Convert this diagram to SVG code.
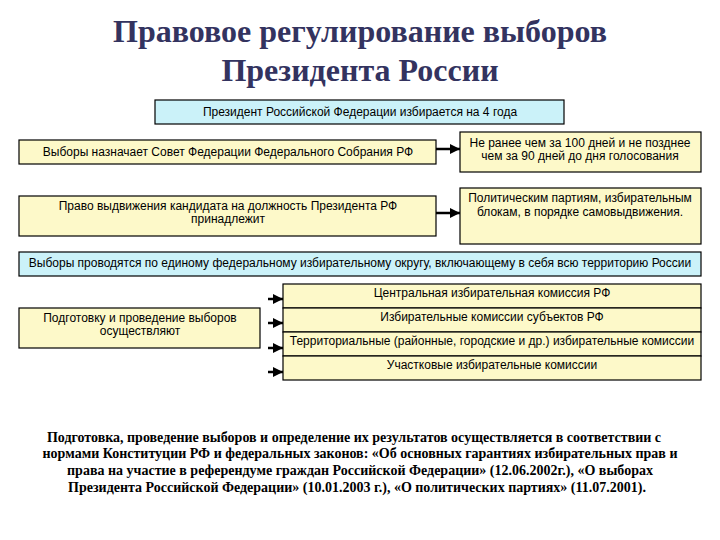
<svg xmlns="http://www.w3.org/2000/svg" width="720" height="540" viewBox="0 0 720 540">
<defs>
<style>
.title{font-family:"Liberation Serif","Times New Roman",serif;font-weight:bold;font-size:32px;fill:#33335f;text-anchor:middle}
.y{fill:#fdf9c9;stroke:#000;stroke-width:1.2}
.b{fill:#cbf2f9;stroke:#000;stroke-width:1.2}
.t{font-family:"Liberation Sans",Arial,sans-serif;font-size:12px;fill:#000;text-anchor:middle}
.bt{font-family:"Liberation Serif","Times New Roman",serif;font-weight:bold;font-size:14px;fill:#000;text-anchor:middle}
.c{stroke:#000;stroke-width:2.5;fill:none}
</style>
<marker id="ah" viewBox="0 0 10 10" refX="10" refY="5" markerWidth="4" markerHeight="4" markerUnits="strokeWidth" orient="auto">
<path d="M0,0 L10,5 L0,10 z" fill="#000"/>
</marker>
</defs>
<rect width="720" height="540" fill="#fff"/>
<text class="title" x="360" y="42">Правовое регулирование выборов</text>
<text class="title" x="360" y="81">Президента России</text>

<g id="n1"><rect class="b" x="155" y="100" width="409" height="24"/><text class="t" x="360" y="116">Президент Российской Федерации избирается на 4 года</text></g>
<g id="n2"><rect class="y" x="19" y="140" width="417" height="24"/><text class="t" x="228" y="156">Выборы назначает Совет Федерации Федерального Собрания РФ</text></g>
<g id="n3"><rect class="y" x="460" y="132" width="241" height="40"/><text class="t" x="580" y="147">Не ранее чем за 100 дней и не позднее</text><text class="t" x="580" y="160">чем за 90 дней до дня голосования</text></g>
<g id="n4"><rect class="y" x="19" y="196" width="417" height="40"/><text class="t" x="228" y="210">Право выдвижения кандидата на должность Президента РФ</text><text class="t" x="228" y="223">принадлежит</text></g>
<g id="n5"><rect class="y" x="460" y="188" width="241" height="56"/><text class="t" x="580" y="202">Политическим партиям, избирательным</text><text class="t" x="580" y="216">блокам, в порядке самовыдвижения.</text></g>
<g id="n6"><rect class="b" x="19" y="252" width="682" height="24"/><text class="t" x="360" y="267">Выборы проводятся по единому федеральному избирательному округу, включающему в себя всю территорию России</text></g>
<g id="n7"><rect class="y" x="19" y="308" width="241" height="40"/><text class="t" x="140" y="322">Подготовку и проведение выборов</text><text class="t" x="140" y="335">осуществляют</text></g>
<g id="n8"><rect class="y" x="283" y="284" width="418" height="24"/><text class="t" x="492" y="297">Центральная избирательная комиссия РФ</text></g>
<g id="n9"><rect class="y" x="283" y="308" width="418" height="24"/><text class="t" x="492" y="321">Избирательные комиссии субъектов РФ</text></g>
<g id="n10"><rect class="y" x="283" y="332" width="418" height="24"/><text class="t" x="492" y="345">Территориальные (районные, городские и др.) избирательные комиссии</text></g>
<g id="n11"><rect class="y" x="283" y="356" width="418" height="24"/><text class="t" x="492" y="369">Участковые избирательные комиссии</text></g>

<g id="connectors">
<line class="c" x1="436" y1="149" x2="460" y2="149" marker-end="url(#ah)"/>
<line class="c" x1="436" y1="213" x2="460" y2="213" marker-end="url(#ah)"/>
<line class="c" x1="268" y1="299" x2="283" y2="299" marker-end="url(#ah)"/>
<line class="c" x1="268" y1="323" x2="283" y2="323" marker-end="url(#ah)"/>
<line class="c" x1="268" y1="348" x2="283" y2="348" marker-end="url(#ah)"/>
<line class="c" x1="268" y1="372" x2="283" y2="372" marker-end="url(#ah)"/>
</g>

<g id="footer">
<text class="bt" x="354" y="442">Подготовка, проведение выборов и определение их  результатов осуществляется в соответствии с</text>
<text class="bt" x="360" y="458">нормами Конституции РФ и федеральных законов: «Об основных гарантиях избирательных прав и</text>
<text class="bt" x="360" y="475">права на участие в референдуме граждан  Российской Федерации» (12.06.2002г.), «О выборах</text>
<text class="bt" x="357" y="492">Президента Российской Федерации» (10.01.2003 г.), «О политических партиях» (11.07.2001).</text>
</g>
</svg>
